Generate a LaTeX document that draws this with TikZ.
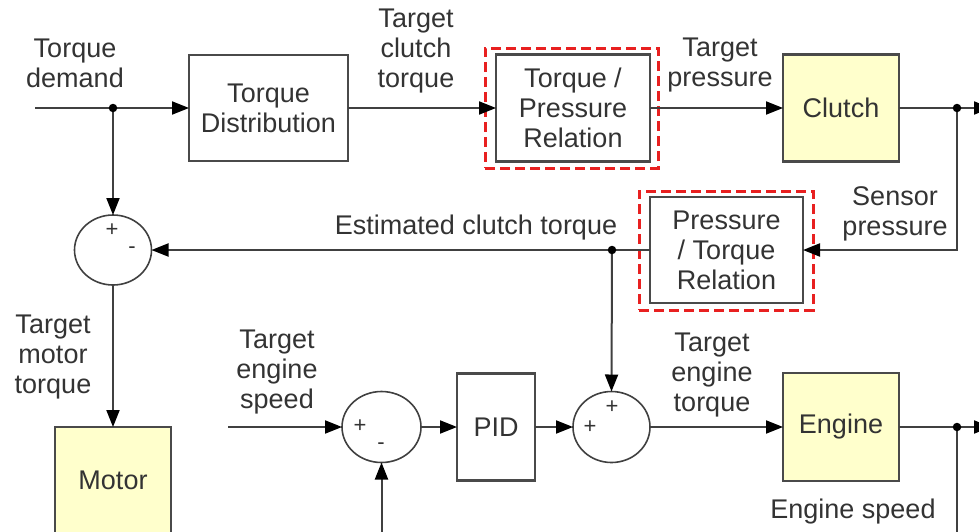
\documentclass[tikz,border=0pt]{standalone}
\usepackage{fontspec}
\setmainfont{Liberation Sans}
\usetikzlibrary{arrows.meta,shapes.geometric}
\definecolor{txt}{HTML}{333333}
\definecolor{edge}{HTML}{4A4A4A}
\definecolor{wire}{HTML}{404040}
\definecolor{pale}{RGB}{255,255,204}
\definecolor{hl}{HTML}{E82020}
\begin{document}
\begin{tikzpicture}[x=1pt,y=-1pt,
  font=\fontsize{27}{30}\selectfont, text=txt,
  blk/.style={draw=edge,line width=2.4pt,inner sep=0pt,outer sep=0pt,align=center},
  plant/.style={blk,fill=pale},
  hlbox/.style={draw=hl,line width=3pt,dash pattern=on 10pt off 5pt,inner sep=0pt,outer sep=0pt},
  summer/.style={ellipse,draw=wire,line width=1.6pt,inner sep=0pt,outer sep=0pt},
  sig/.style={font=\fontsize{22}{22}\selectfont,inner sep=0pt},
  lbl/.style={align=center,inner sep=0pt},
  wirearrow/.style={draw=wire,line width=2pt,-{Triangle[length=17pt,width=13pt,color=black]}},
  wireline/.style={draw=wire,line width=2pt},
  jdot/.style={circle,fill=black,inner sep=0pt,minimum size=8.5pt}]
\useasboundingbox (0,0) rectangle (979,531);
\clip (0,0) rectangle (979,531);

% blocks
\node[blk,minimum width=159pt,minimum height=106pt] (td) at (268.5,108) {Torque\\Distribution};
\node[hlbox,minimum width=173pt,minimum height=120pt] (tprh) at (571.5,108) {};
\node[blk,minimum width=154pt,minimum height=107pt] (tpr) at (573,108) {Torque /\\Pressure\\Relation};
\node[plant,minimum width=116pt,minimum height=107pt] (clutch) at (841,108) {Clutch};
\node[hlbox,minimum width=174pt,minimum height=119pt] (ptrh) at (726,250.5) {};
\node[blk,minimum width=153pt,minimum height=106pt] (ptr) at (726.5,250) {Pressure\\/ Torque\\Relation};
\node[plant,minimum width=116pt,minimum height=146pt,anchor=north] (motor) at (113,427) {};
\node (motort) at (113,480) {Motor};
\node[blk,minimum width=78pt,minimum height=107pt] (pid) at (496,427) {PID};
\node[plant,minimum width=116pt,minimum height=108pt] (engine) at (841,427) {Engine};

% summing junctions
\node[summer,minimum width=77pt,minimum height=70pt] (s1) at (113,250) {};
\node[summer,minimum width=79pt,minimum height=71pt] (s2) at (381.5,427) {};
\node[summer,minimum width=77pt,minimum height=71pt] (s3) at (611.5,427) {};
\node[sig] (s1p) at (112,230) {+};
\node[sig] (s1m) at (132,250) {-};
\node[sig] (s2p) at (360,426) {+};
\node[sig] (s2m) at (381,446) {-};
\node[sig] (s3p) at (590,427) {+};
\node[sig] (s3q) at (612,407) {+};

% free ends and junctions
\coordinate (in1) at (35,108);
\coordinate (d1) at (113,108);
\coordinate (d2) at (957,108);
\coordinate (out1) at (991,108);
\coordinate (d3) at (612,250);
\coordinate (in2) at (228,427);
\coordinate (fb) at (381.5,545);
\coordinate (d4) at (957,427);
\coordinate (out2) at (991,427);
\coordinate (down) at (957,545);

% connectors
\draw[wirearrow] (in1) -- (td.west);
\draw[wirearrow] (d1) -- (s1.north);
\draw[wirearrow] (td.east) -- (tpr.west);
\draw[wirearrow] (tpr.east) -- (clutch.west);
\draw[wirearrow] (clutch.east) -- (out1);
\draw[wirearrow] (d2) |- (ptr.east);
\draw[wirearrow] (ptr.west) -- (s1.east);
\draw[wirearrow] (d3) -- (s3.north);
\draw[wirearrow] (s1.south) -- (motor.north);
\draw[wirearrow] (in2) -- (s2.west);
\draw[wirearrow] (fb) -- (s2.south);
\draw[wirearrow] (s2.east) -- (pid.west);
\draw[wirearrow] (pid.east) -- (s3.west);
\draw[wirearrow] (s3.east) -- (engine.west);
\draw[wirearrow] (engine.east) -- (out2);
\draw[wireline] (d4) -- (down);

\node[jdot] (j1) at (d1) {};
\node[jdot] (j2) at (d2) {};
\node[jdot] (j3) at (d3) {};
\node[jdot] (j4) at (d4) {};

% labels
\node[lbl] (l1) at (75,63) {Torque\\demand};
\node[lbl] (l2) at (416,51) {Target\\clutch\\torque};
\node[lbl] (l3) at (720,65) {Target\\pressure};
\node[lbl] (l4) at (895,214) {Sensor\\pressure};
\node[lbl] (l5) at (476,228) {Estimated clutch torque};
\node[lbl] (l6) at (53,357) {Target\\motor\\torque};
\node[lbl] (l7) at (277,372) {Target\\engine\\speed};
\node[lbl] (l8) at (712,375) {Target\\engine\\torque};
\node[lbl] (l9) at (853,512) {Engine speed};
\end{tikzpicture}
\end{document}
